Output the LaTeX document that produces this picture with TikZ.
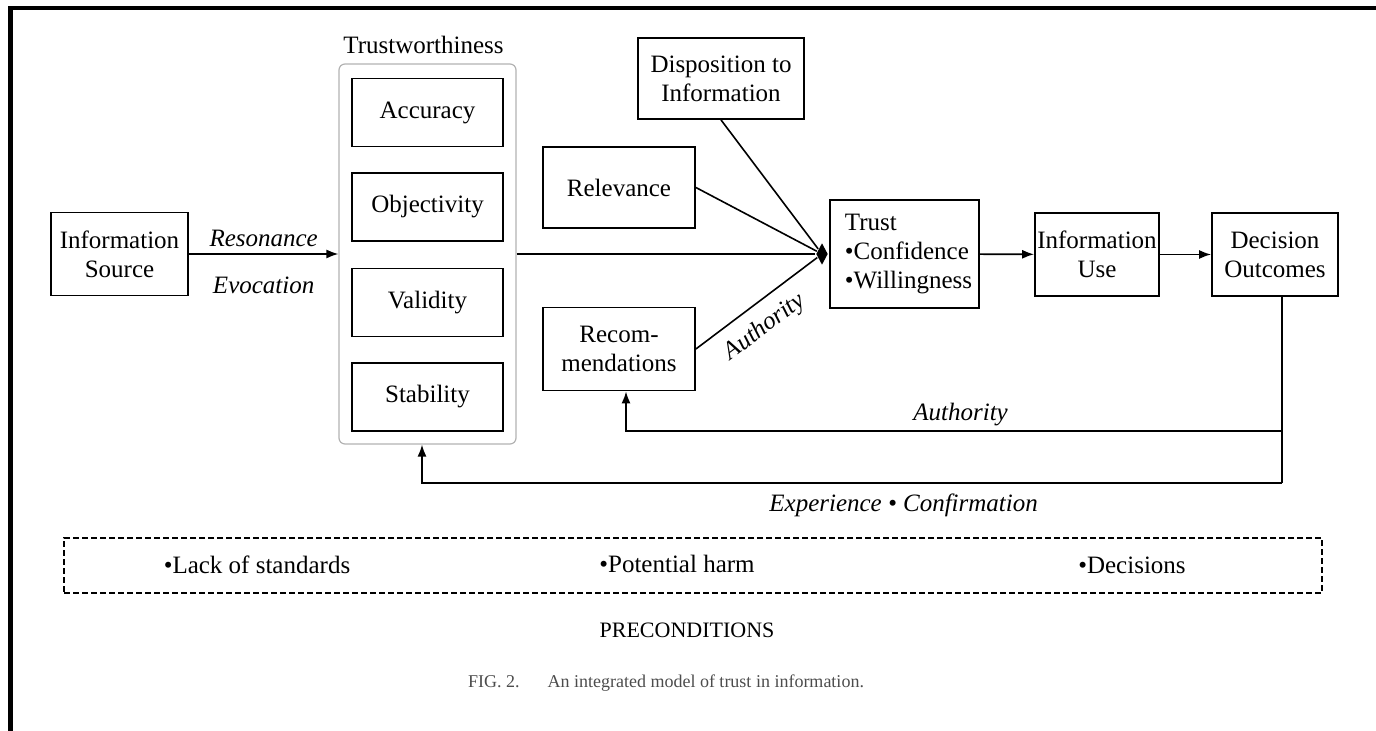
\documentclass[tikz,border=0pt]{standalone}
\usepackage{fontspec}
\setmainfont{Liberation Serif}
\usepackage{tikz}
\usetikzlibrary{arrows.meta,positioning,shapes.geometric,calc}

\begin{document}
\begin{tikzpicture}[x=0.5pt, y=-0.5pt, >={Latex[length=6pt,width=4.5pt]}, line width=0.8pt,
  every node/.style={font=\fontsize{12.5}{14.5}\selectfont, align=center, inner sep=0pt},
  box/.style={draw, line width=0.9pt, minimum height=41.5pt},
  trait/.style={box, minimum width=75.5pt, minimum height=34pt},
  cue/.style={font=\fontsize{12.5}{14.5}\selectfont\itshape}]
\useasboundingbox (0,0) rectangle (1376,731);
% frame edges of the scan
\draw[line width=2.2pt] (10.5,731) -- (10.5,8) -- (1376,8);

\node (src) [box, minimum width=68.5pt] at (119.5,254) {Information\\Source};
\node (twlbl) at (423.5,45) {Trustworthiness};
\node (tw) [draw=black!30, line width=0.6pt, rounded corners=3pt, minimum width=88.5pt, minimum height=190pt] at (427.5,254) {};
\foreach \name/\txt/\y in {acc/Accuracy/112.5, obj/Objectivity/207, val/Validity/302.5, stab/Stability/397}
  \node (\name) [trait] at (427.5,\y) {\txt};

\node (disp) [box, minimum width=83pt, minimum height=40.5pt] at (721,78.5) {Disposition to\\Information};
\node (rel) [box, minimum width=76pt, minimum height=40.5pt] at (619,187.5) {Relevance};
\node (rec) [box, minimum width=76pt] at (619,349) {Recom-\\mendations};
\node (jn) [diamond, fill, inner sep=0pt, minimum width=6pt, minimum height=11pt] at (822,254) {};
\node (trust) [box, minimum width=74.5pt, minimum height=54pt, align=left] at (904.5,254) {\hspace*{4pt}Trust\\\hspace*{4pt}•Confidence\\\hspace*{4pt}•Willingness};
\node (use) [box, minimum width=62pt] at (1097,254.5) {Information\\Use};
\node (dec) [box, minimum width=63pt] at (1275,254.5) {Decision\\Outcomes};

\draw[->] (src) -- node[cue, above=3pt]{Resonance} node[cue, below=11pt]{Evocation} (tw);
\draw (tw.east) -- (jn);
\draw (disp.south) -- (jn);
\draw (rel.east) -- (jn);
\draw (rec.east) -- node[cue, sloped, pos=0.45, below=6pt]{Authority} (jn);
\draw[->] (trust) -- (use);
\draw[->] (use) -- (dec);

% feedback loops
\coordinate (fbA) at (1282,431);
\coordinate (fbE) at (1282,483);
\draw ([xshift=3.5pt]dec.south) -- (fbE);
\draw[->] (fbA) -| node[cue, pos=0.245, above=2pt]{Authority} ([xshift=3.5pt]rec.south);
\draw[->] (fbE) -| node[cue, pos=0.22, below=5pt]{Experience • Confirmation} ([xshift=-2.75pt]tw.south);

\node (pre) [draw, line width=0.6pt, dash pattern=on 3pt off 1.5pt, minimum width=629pt, minimum height=27.5pt] at (693,565.5) {};
\node (lack) at (257,565) {•Lack of standards};
\node (harm) at (677,564) {•Potential harm};
\node (dcs) at (1132,565) {•Decisions};
\node (prelbl) [font=\fontsize{11}{13}\selectfont] at (687,630) {PRECONDITIONS};
\node (cap) [font=\fontsize{9}{11}\selectfont, text=black!70] at (666,683) {FIG. 2.\hspace{14pt}An integrated model of trust in information.};
\end{tikzpicture}
\end{document}
